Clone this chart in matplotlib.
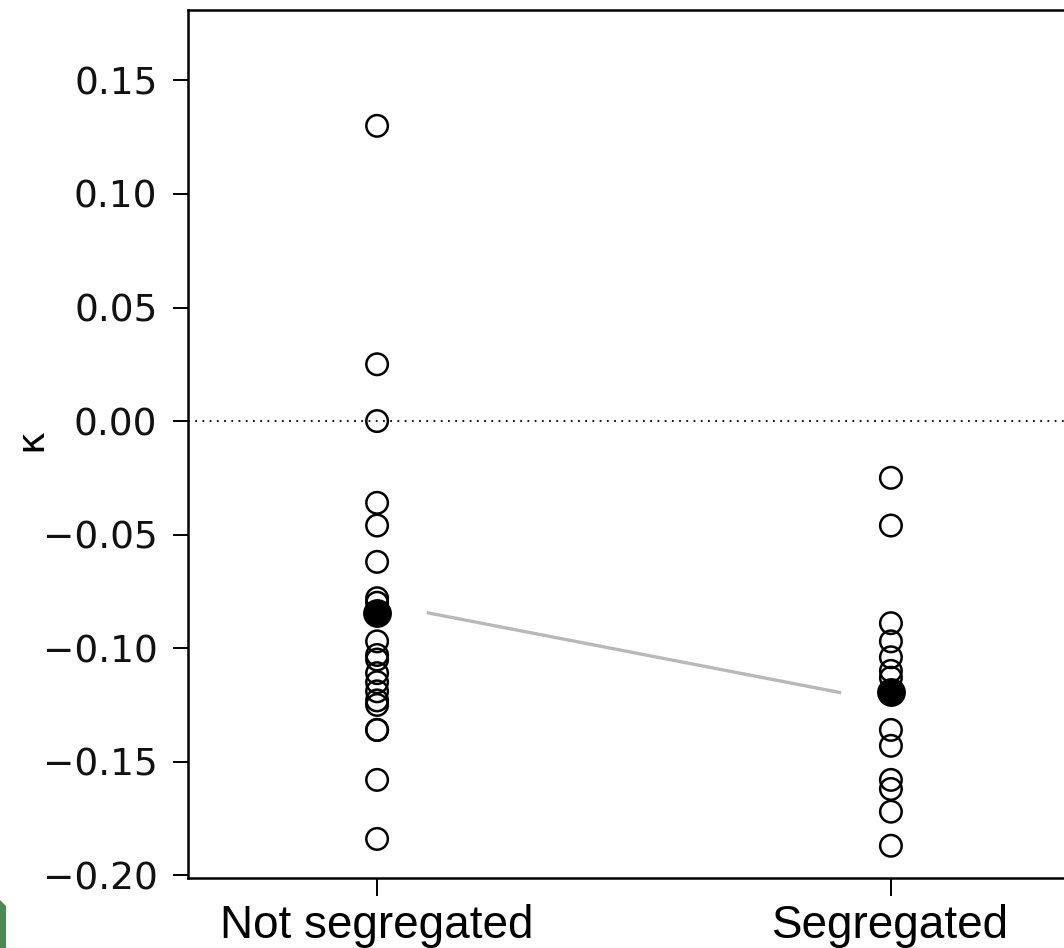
import matplotlib
matplotlib.use("Agg")
import matplotlib.pyplot as plt
from matplotlib.patches import Polygon

categories = ["Not segregated", "Segregated"]
not_segregated = [0.130, 0.025, 0.000, -0.036, -0.046, -0.062, -0.078, -0.080,
                  -0.097, -0.103, -0.105, -0.111, -0.115, -0.119, -0.123, -0.125,
                  -0.136, -0.136, -0.158, -0.184]
segregated = [-0.025, -0.046, -0.089, -0.097, -0.104, -0.110, -0.113, -0.120,
              -0.136, -0.143, -0.158, -0.162, -0.172, -0.187]
group_means = [-0.0845, -0.1195]
yticks = [-0.20, -0.15, -0.10, -0.05, 0.00, 0.05, 0.10, 0.15]
ylabels = ["\u22120.20", "\u22120.15", "\u22120.10", "\u22120.05", "0.00", "0.05", "0.10", "0.15"]

W, H = 1064, 948
fig = plt.figure(figsize=(W / 100, H / 100), dpi=100)
left, right, top, bottom = 188, 1080, 10, 878
ax = fig.add_axes([left / W, 1 - bottom / H, (right - left) / W, (bottom - top) / H])

ax.axhline(0, color="black", linestyle=(0, (1, 3)), linewidth=1.3, zorder=1)

for i, vals in enumerate([not_segregated, segregated]):
    ax.scatter([i] * len(vals), vals, s=240, facecolors="none", edgecolors="black",
               linewidths=1.8, zorder=3)
    ax.scatter([i], [group_means[i]], s=390, color="black", zorder=4)

ax.plot([0.1, 0.9], group_means, color="#b8b8b8", linewidth=2.4, zorder=2)

ax.set_xlim(-0.368, 1.368)
ax.set_ylim(-0.2012, 0.181)
ax.set_xticks([0, 1])
ax.set_xticklabels(categories, fontsize=33, family="Liberation Sans")
ax.set_yticks(yticks)
ax.set_yticklabels(ylabels, fontsize=27, family="DejaVu Sans", color="#111111")
ax.tick_params(axis="y", length=11, width=1.4, pad=11)
ax.tick_params(axis="x", length=13, width=1.4, pad=6)
for sp in ax.spines.values():
    sp.set_linewidth(1.8)
ax.set_ylabel("\u03ba", fontsize=28, family="DejaVu Sans")
ax.yaxis.set_label_coords(-0.155, 0.505)

fig.patches.append(Polygon([[0, 0], [6 / W, 0], [6 / W, 42 / H], [0, 48 / H]],
                           closed=True, transform=fig.transFigure,
                           facecolor="#4a8a55", edgecolor="none"))

fig.savefig("out.png", dpi=100)
